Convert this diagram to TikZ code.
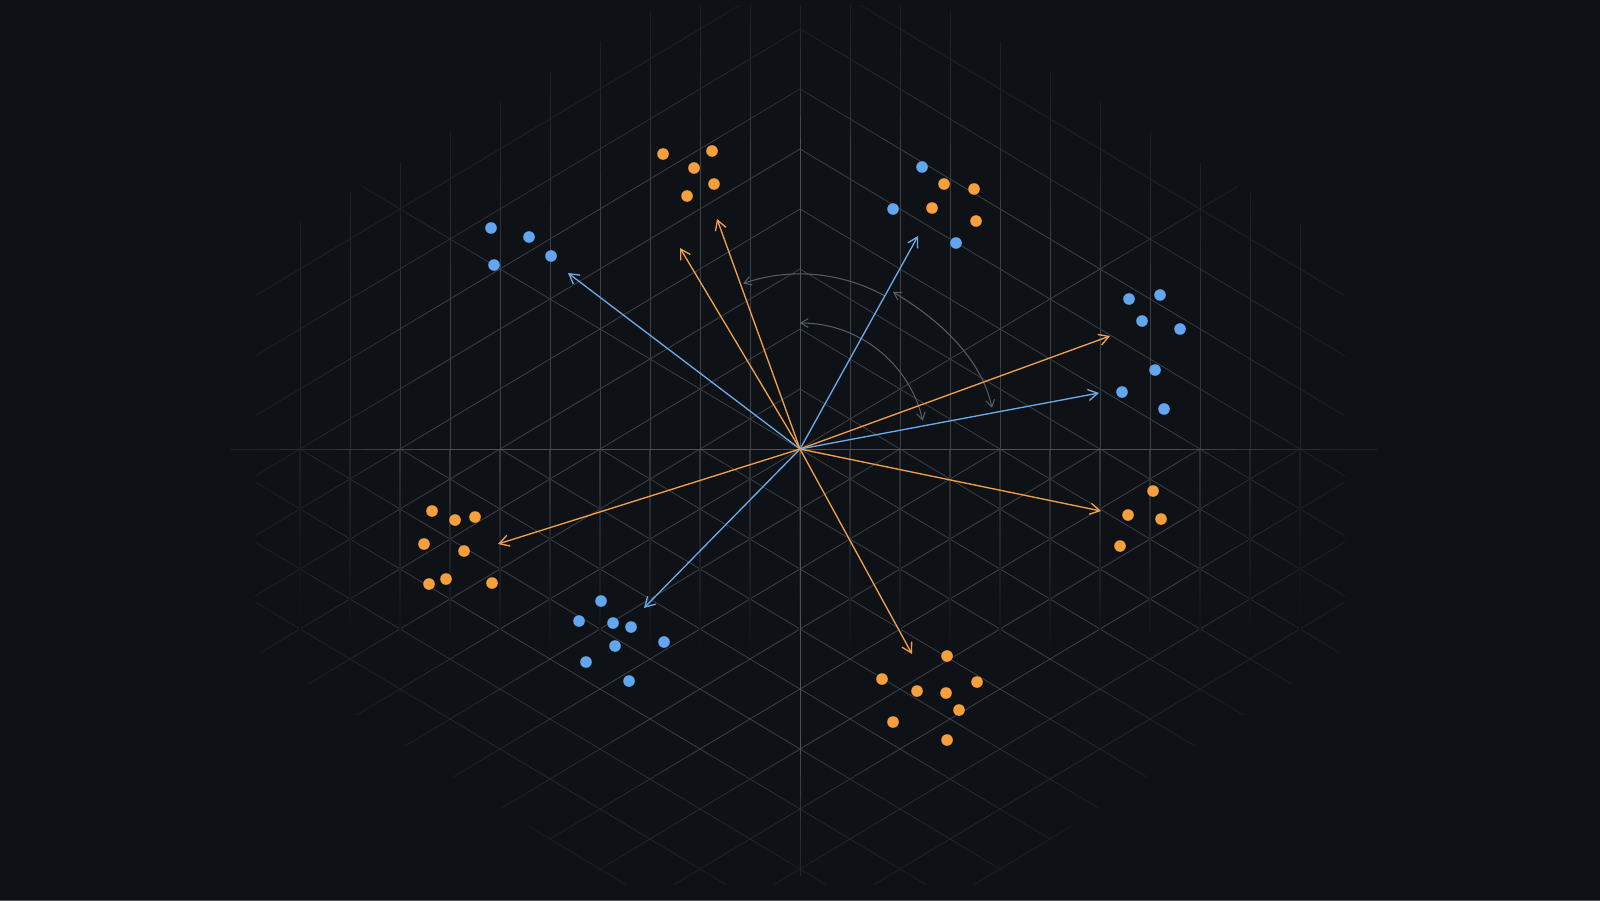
\documentclass[tikz,border=0pt]{standalone}
\usetikzlibrary{arrows.meta,calc}
\definecolor{bgc}{HTML}{0E1116}
\definecolor{gridc}{HTML}{3A3F47}
\definecolor{axisc}{HTML}{4C5159}
\definecolor{arcc}{HTML}{555C65}
\definecolor{orangec}{HTML}{F5A03C}
\definecolor{bluec}{HTML}{62A6F0}
\definecolor{orangel}{HTML}{EFA04C}
\definecolor{bluel}{HTML}{6BAAE8}
\tikzset{
  gridline/.style={gridc, line width=0.6pt},
  axisline/.style={axisc, line width=0.7pt},
  ovec/.style={orangel, line width=0.95pt, -{Straight Barb[length=2.4mm,width=2.8mm,line width=0.95pt]}},
  bvec/.style={bluel, line width=0.95pt, -{Straight Barb[length=2.4mm,width=2.8mm,line width=0.95pt]}},
  arcline/.style={arcc, line width=0.75pt},
  arctip/.style={arrows={-{Straight Barb[length=1.8mm,width=2.2mm,line width=0.75pt]}}},
  arctips/.style={arrows={{Straight Barb[length=1.8mm,width=2.2mm,line width=0.75pt]}-{Straight Barb[length=1.8mm,width=2.2mm,line width=0.75pt]}}},
  odot/.style={circle, fill=orangec, inner sep=0pt, minimum size=2.9mm},
  bdot/.style={circle, fill=bluec, inner sep=0pt, minimum size=2.9mm}
}
\begin{document}
\begin{tikzpicture}[x=0.25mm,y=-0.25mm]
\useasboundingbox (0,0) rectangle (1600,900);
\fill[bgc] (0,0) rectangle (1600,900);
\coordinate (O) at (800,449);
\coordinate (P1) at (255,250);
\coordinate (P2) at (660,5);
\coordinate (P3) at (940,5);
\coordinate (P4) at (1345,250);
\coordinate (P5) at (1345,650);
\coordinate (P6) at (980,885);
\coordinate (P7) at (620,885);
\coordinate (P8) at (255,650);
% grid
\begin{scope}
\clip (P1) -- (P2) -- (P3) -- (P4) -- (P5) -- (P6) -- (P7) -- (P8) -- cycle;
% chevrons of the upper half (and their continuation below the axis)
\foreach \m in {-13,...,-1}{
  \draw[gridline] (200,{809+60*\m}) -- (800,{449+60*\m});
  \draw[gridline] (800,{449+60*\m}) -- (1400,{809+60*\m});
}
% the two lines through the origin
\draw[gridline] (200,809) -- (1400,89);
\draw[gridline] (200,89) -- (1400,809);
% lower lattice lines, stopping at the horizontal axis
\foreach \m in {1,...,13}{
  \draw[gridline] (200,{809+60*\m}) -- ({800+100*\m},449);
  \draw[gridline] ({800-100*\m},449) -- (1400,{809+60*\m});
}
\foreach \k in {-11,...,11}{
  \draw[gridline] ({800+50*\k},0) -- ({800+50*\k},449);
  \shade[top color=gridc!80!bgc, bottom color=bgc] ({800+50*\k-0.6},449) rectangle ({800+50*\k+0.6},650);
}
\end{scope}
\draw[axisline] (230,449) -- (1378,449);
\draw[axisline] (800,31) -- (800,876);
% fade toward the edges
\foreach \f in {1.0,0.95,0.9,0.85,0.8,0.75,0.7}{
  \fill[bgc, opacity=0.16, even odd rule] (-5,-5) rectangle (1605,905)
    ($(O)!\f!(P1)$) -- ($(O)!\f!(P2)$) -- ($(O)!\f!(P3)$) -- ($(O)!\f!(P4)$) --
    ($(O)!\f!(P5)$) -- ($(O)!\f!(P6)$) -- ($(O)!\f!(P7)$) -- ($(O)!\f!(P8)$) -- cycle;
}
% angle arcs
\coordinate (aA) at ($(O)+(-61:175)$);
\draw[arcline, arctip] (aA) arc[start angle=-61, end angle=-109, radius=175];
\coordinate (aBs) at (893,292);
\coordinate (aBe) at (992,408);
\draw[arcline, arctips] (aBs) .. controls (938,319) and (981,357) .. (aBe);
\coordinate (aC) at ($(O)+(-90:126)$);
\draw[arcline, arctips] (aC) arc[start angle=-90, end angle=-13, radius=126];
% vectors
\coordinate (t1) at (568,273);
\coordinate (t2) at (680,248);
\coordinate (t3) at (717,219);
\coordinate (t4) at (918,236);
\coordinate (t5) at (1110,336);
\coordinate (t6) at (1099,393);
\coordinate (t7) at (1101,511);
\coordinate (t8) at (912,654);
\coordinate (t9) at (644,608);
\coordinate (t10) at (498,544);
\draw[bvec] (O) -- (t1);
\draw[ovec] (O) -- (t2);
\draw[ovec] (O) -- (t3);
\draw[bvec] (O) -- (t4);
\draw[ovec] (O) -- (t5);
\draw[bvec] (O) -- (t6);
\draw[ovec] (O) -- (t7);
\draw[ovec] (O) -- (t8);
\draw[bvec] (O) -- (t9);
\draw[ovec] (O) -- (t10);
% dots: top orange cluster
\node[odot] (oa1) at (663,154) {};
\node[odot] (oa2) at (712,151) {};
\node[odot] (oa3) at (694,168) {};
\node[odot] (oa4) at (714,184) {};
\node[odot] (oa5) at (687,196) {};
% top-right mixed cluster
\node[bdot] (ba1) at (922,167) {};
\node[bdot] (ba2) at (893,209) {};
\node[bdot] (ba3) at (956,243) {};
\node[odot] (ob1) at (944,184) {};
\node[odot] (ob2) at (974,189) {};
\node[odot] (ob3) at (932,208) {};
\node[odot] (ob4) at (976,221) {};
% upper-left blue
\node[bdot] (bb1) at (491,228) {};
\node[bdot] (bb2) at (529,237) {};
\node[bdot] (bb3) at (494,265) {};
\node[bdot] (bb4) at (551,256) {};
% right blue
\node[bdot] (bc1) at (1129,299) {};
\node[bdot] (bc2) at (1160,295) {};
\node[bdot] (bc3) at (1142,321) {};
\node[bdot] (bc4) at (1180,329) {};
\node[bdot] (bc5) at (1155,370) {};
\node[bdot] (bc6) at (1122,392) {};
\node[bdot] (bc7) at (1164,409) {};
% lower-left orange
\node[odot] (oc1) at (432,511) {};
\node[odot] (oc2) at (455,520) {};
\node[odot] (oc3) at (475,517) {};
\node[odot] (oc4) at (424,544) {};
\node[odot] (oc5) at (464,551) {};
\node[odot] (oc6) at (429,584) {};
\node[odot] (oc7) at (446,579) {};
\node[odot] (oc8) at (492,583) {};
% lower blue
\node[bdot] (bd1) at (601,601) {};
\node[bdot] (bd2) at (579,621) {};
\node[bdot] (bd3) at (613,623) {};
\node[bdot] (bd4) at (631,627) {};
\node[bdot] (bd5) at (664,642) {};
\node[bdot] (bd6) at (615,646) {};
\node[bdot] (bd7) at (586,662) {};
\node[bdot] (bd8) at (629,681) {};
% right orange
\node[odot] (od1) at (1153,491) {};
\node[odot] (od2) at (1128,515) {};
\node[odot] (od3) at (1161,519) {};
\node[odot] (od4) at (1120,546) {};
% bottom orange
\node[odot] (oe1) at (947,656) {};
\node[odot] (oe2) at (882,679) {};
\node[odot] (oe3) at (917,691) {};
\node[odot] (oe4) at (946,693) {};
\node[odot] (oe5) at (977,682) {};
\node[odot] (oe6) at (959,710) {};
\node[odot] (oe7) at (893,722) {};
\node[odot] (oe8) at (947,740) {};
\end{tikzpicture}
\end{document}
